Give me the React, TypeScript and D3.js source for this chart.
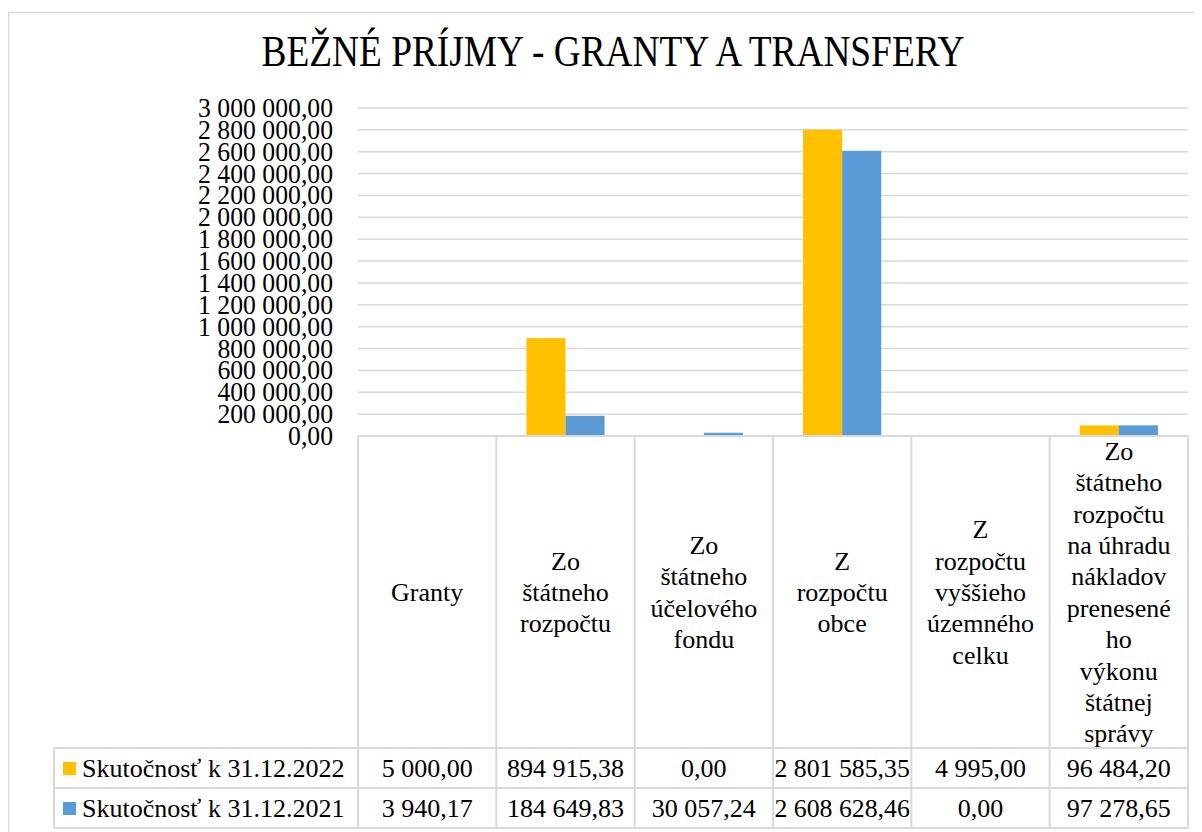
import React, { useRef, useEffect } from 'react';
import * as d3 from 'd3';

const title = 'BEŽNÉ PRÍJMY - GRANTY A TRANSFERY';

// category labels, already split into lines the way the original wraps them
const categories = [
  ['Granty'],
  ['Zo', 'štátneho', 'rozpočtu'],
  ['Zo', 'štátneho', 'účelového', 'fondu'],
  ['Z', 'rozpočtu', 'obce'],
  ['Z', 'rozpočtu', 'vyššieho', 'územného', 'celku'],
  ['Zo', 'štátneho', 'rozpočtu', 'na úhradu', 'nákladov', 'prenesené', 'ho', 'výkonu', 'štátnej', 'správy'],
];

const seriesNames = ['Skutočnosť k 31.12.2022', 'Skutočnosť k 31.12.2021'];
const values2022 = [5000.0, 894915.38, 0.0, 2801585.35, 4995.0, 96484.2];
const values2021 = [3940.17, 184649.83, 30057.24, 2608628.46, 0.0, 97278.65];
const yTicks = [0, 200000, 400000, 600000, 800000, 1000000, 1200000, 1400000, 1600000, 1800000, 2000000, 2200000, 2400000, 2600000, 2800000, 3000000];

const colors = ['#FFC000', '#5B9BD5'];
const gridColor = '#d9d9d9';
const serif = 'Liberation Serif';

const fmt = d3.formatLocale({ decimal: ',', thousands: ' ', grouping: [3], currency: ['', ''] }).format(',.2f');

const W = 1202;
const H = 832;
const plot = { left: 358, right: 1188, top: 108, bottom: 436 };
const tableBottom = 828;
const headerBottom = 748;
const legendLeft = 54;

const T = (props: any) => <text fontFamily={serif} style={{ fontFamily: serif }} {...props} />;

const App = () => {
  const svgRef = useRef<SVGSVGElement>(null);

  const x0 = d3.scaleBand<number>()
    .domain(categories.map((_, i) => i))
    .range([plot.left, plot.right])
    .padding(0);

  const x1 = d3.scaleBand<number>()
    .domain([0, 1])
    .range([0, x0.bandwidth()])
    .paddingInner(0)
    .paddingOuter(0.77);

  const y = d3.scaleLinear()
    .domain([0, 3000000])
    .range([plot.bottom, plot.top]);

  const series = [values2022, values2021];
  const rowH = (tableBottom - headerBottom) / 2;

  // shrink long numbers so they fit their cell, like Excel does
  useEffect(() => {
    const svg = d3.select(svgRef.current);
    svg.selectAll<SVGTextElement, unknown>('text.fit').each(function () {
      const max = x0.bandwidth() - 3;
      const len = this.getComputedTextLength();
      if (len > max) {
        d3.select(this).attr('textLength', max).attr('lengthAdjust', 'spacingAndGlyphs');
      }
    });
  }, []);

  const lineH = 31.4;
  const headerMid = (plot.bottom + headerBottom) / 2;

  return (
    <div style={{ margin: '-8px 0 0 -8px', width: W, height: H }}>
      <svg ref={svgRef} width={W} height={H} fontFamily={serif}>
        <rect x={8.5} y={12.5} width={W + 20} height={H + 20} fill="#fff" stroke={gridColor} strokeWidth={1.5} />

        <T x={613} y={66} textAnchor="middle" fontSize={44} textLength={703} lengthAdjust="spacingAndGlyphs">{title}</T>

        {/* gridlines + y labels */}
        {yTicks.map(t => (
          <g key={t}>
            {t > 0 && (
              <line x1={plot.left} x2={plot.right} y1={y(t)} y2={y(t)} stroke={gridColor} strokeWidth={1.5} />
            )}
            <T transform={`translate(333,${y(t) + 9}) scale(0.97,1)`} textAnchor="end" fontSize={26.5}>{fmt(t)}</T>
          </g>
        ))}

        {/* bars */}
        {series.map((vals, s) => (
          <g key={s} fill={colors[s]}>
            {vals.map((v, i) => (
              <rect key={i}
                x={(x0(i) as number) + (x1(s) as number)}
                y={y(v)}
                width={x1.bandwidth()}
                height={plot.bottom - y(v)} />
            ))}
          </g>
        ))}

        {/* data table */}
        <g stroke={gridColor} strokeWidth={2} fill="none">
          <line x1={plot.left} x2={plot.right} y1={plot.bottom} y2={plot.bottom} />
          {categories.map((_, i) => (
            <line key={i} x1={x0(i)} x2={x0(i)} y1={plot.bottom} y2={tableBottom} />
          ))}
          <line x1={plot.right} x2={plot.right} y1={plot.bottom} y2={tableBottom} />
          <line x1={legendLeft} x2={legendLeft} y1={headerBottom} y2={tableBottom} />
          {[headerBottom, headerBottom + rowH, tableBottom].map(yy => (
            <line key={yy} x1={legendLeft} x2={plot.right} y1={yy} y2={yy} />
          ))}
        </g>

        {categories.map((lines, i) => (
          <g key={i}>
            {lines.map((ln, j) => (
              <T key={j}
                x={(x0(i) as number) + x0.bandwidth() / 2}
                y={headerMid + (j - (lines.length - 1) / 2) * lineH + 9}
                textAnchor="middle" fontSize={26}>{ln}</T>
            ))}
          </g>
        ))}

        {series.map((vals, s) => {
          const cy = headerBottom + rowH * s + rowH / 2;
          return (
            <g key={s}>
              <rect x={63} y={cy - 6} width={13} height={13} fill={colors[s]} />
              <T x={82} y={cy + 9} fontSize={26}>{seriesNames[s]}</T>
              {vals.map((v, i) => (
                <T key={i} className="fit"
                  x={(x0(i) as number) + x0.bandwidth() / 2}
                  y={cy + 9}
                  textAnchor="middle" fontSize={26}>{fmt(v)}</T>
              ))}
            </g>
          );
        })}
      </svg>
    </div>
  );
};

export default App;
